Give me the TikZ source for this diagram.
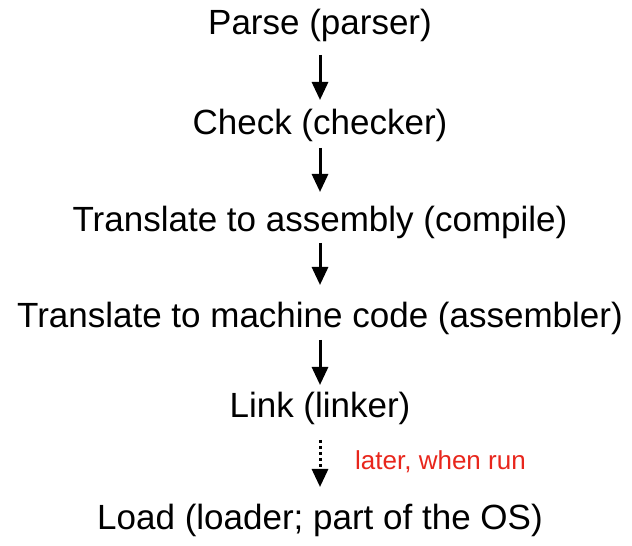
\documentclass[tikz,border=0pt]{standalone}
\usepackage{fontspec}
\setmainfont{Liberation Sans}
\usetikzlibrary{arrows.meta}
\definecolor{notered}{RGB}{232,38,28}
\begin{document}
\begin{tikzpicture}[x=1pt,y=1pt,
  stage/.style={inner sep=0pt,font=\fontsize{35}{40}\selectfont},
  flow/.style={line width=3pt,-{Triangle[width=16pt,length=18pt]}},
  later/.style={flow,dash pattern=on 3pt off 3pt},
  note/.style={inner sep=0pt,text=notered,anchor=west,font=\fontsize{26}{30}\selectfont}]
\useasboundingbox (0,0) rectangle (632,546);
\node[stage] (parse) at (320,521) {Parse (parser)};
\node[stage] (check) at (320,421) {Check (checker)};
\node[stage] (asm) at (320,324) {Translate to assembly (compile)};
\node[stage] (mach) at (320,228) {Translate to machine code (assembler)};
\node[stage] (link) at (320,138) {Link (linker)};
\node[stage] (load) at (320,26) {Load (loader; part of the OS)};
\coordinate (a1s) at (320,491); \coordinate (a1e) at (320,446);
\coordinate (a2s) at (320,398); \coordinate (a2e) at (320,354);
\coordinate (a3s) at (320,303); \coordinate (a3e) at (320,261);
\coordinate (a4s) at (320,206); \coordinate (a4e) at (320,161);
\coordinate (a5s) at (320,106); \coordinate (a5e) at (320,59);
\draw[flow] (a1s) -- (a1e);
\draw[flow] (a2s) -- (a2e);
\draw[flow] (a3s) -- (a3e);
\draw[flow] (a4s) -- (a4e);
\draw[later] (a5s) -- (a5e);
\node[note] (lbl) at (355,84) {later, when run};
\end{tikzpicture}
\end{document}
